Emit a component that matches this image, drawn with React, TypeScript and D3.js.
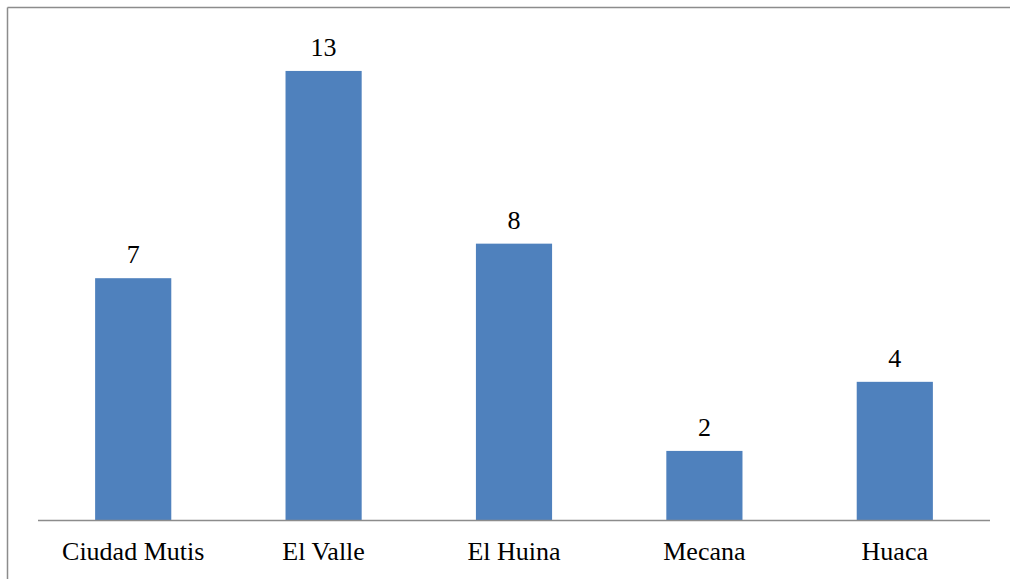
import * as React from "react";
import * as d3 from "d3";

const categories = ["Ciudad Mutis", "El Valle", "El Huina", "Mecana", "Huaca"];
const values = [7, 13, 8, 2, 4];

const W = 1010;
const H = 579;

export default function App() {
  const x = d3
    .scaleBand<string>()
    .domain(categories)
    .range([38, 990])
    .paddingInner(0.6)
    .paddingOuter(0.3);

  const y = d3.scaleLinear().domain([0, 14]).range([520, 36.4]);

  return (
    <svg
      width={W}
      height={H}
      style={{ position: "absolute", left: 0, top: 0, background: "#fff" }}
    >
      {/* outer frame, only top and left edges show */}
      <line x1={7.5} y1={7.5} x2={W} y2={7.5} stroke="#8c8c8c" strokeWidth={1.5} />
      <line x1={7.5} y1={7.5} x2={7.5} y2={H} stroke="#8c8c8c" strokeWidth={1.5} />

      {values.map((v, i) => (
        <rect
          key={categories[i]}
          x={x(categories[i])}
          y={y(v)}
          width={x.bandwidth()}
          height={y(0) - y(v)}
          fill="#4f81bd"
        />
      ))}

      <line x1={38} y1={y(0) + 0.5} x2={990} y2={y(0) + 0.5} stroke="#8c8c8c" strokeWidth={1.5} />

      <g fontFamily="Liberation Serif" fontSize={26} fill="#000" textAnchor="middle">
        {values.map((v, i) => (
          <text key={"v" + i} x={(x(categories[i]) as number) + x.bandwidth() / 2} y={y(v) - 15}>
            {v}
          </text>
        ))}
        {categories.map((c) => (
          <text key={c} x={(x(c) as number) + x.bandwidth() / 2} y={560}>
            {c}
          </text>
        ))}
      </g>
    </svg>
  );
}
